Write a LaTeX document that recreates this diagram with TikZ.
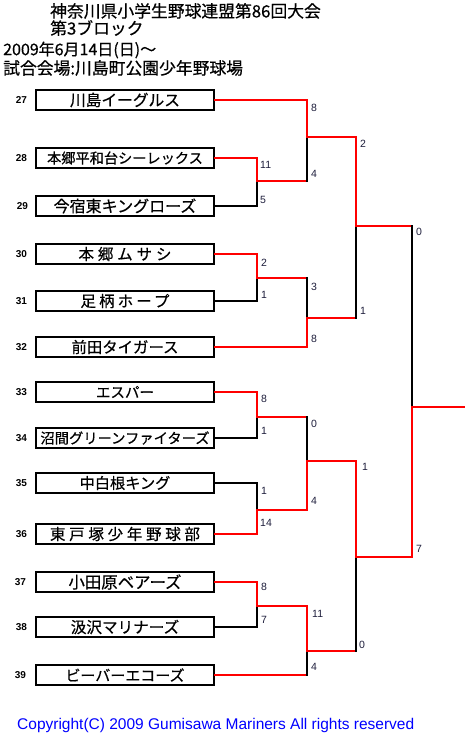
\documentclass[tikz,border=0pt]{standalone}
\usepackage{fontspec}
\setmainfont{Liberation Sans}
\newfontfamily\jp{Noto Sans CJK JP}[FakeBold=0.5]
\usepackage{tikz}
\usetikzlibrary{positioning}
\usepackage{xcolor}
\definecolor{scoreink}{RGB}{30,30,60}

\newcommand{\tname}[3]{{\fontsize{#1}{#1}\selectfont\addfontfeature{LetterSpace=#2}#3}}

\tikzset{
    team/.style={draw, line width=1.6pt, minimum width=178, minimum height=20,
        inner sep=0pt, jp},
    jp/.style={font=\jp},
    seed/.style={font=\fontsize{10}{10}\selectfont\bfseries, inner sep=0pt},
    score/.style={font=\fontsize{10.5}{10.5}\selectfont, text=scoreink, inner sep=1pt, anchor=west},
    head/.style={font=\jp\fontsize{16.8}{16.8}\selectfont, inner sep=0pt, anchor=west},
    win/.style={draw=red, line width=1.6pt, line cap=rect},
    lose/.style={draw=black, line width=1.6pt, line cap=rect}
}

\begin{document}
\begin{tikzpicture}[x=1pt, y=-1pt]
    \path[fill=white, use as bounding box] (0,0) rectangle (465,734);

    % Title
    \node[head] (title) at (50,11) {神奈川県小学生野球連盟第86回大会};
    \node[head] (block) at (50,28) {第3ブロック};
    \node[head, font=\jp\fontsize{16}{16}\selectfont] (date) at (3,50) {2009年6月14日(日)～};
    \node[head] (venue) at (3,68) {試合会場:川島町公園少年野球場};

    % Teams
    \node[team] (t27) at (125,100) {\tname{15.7}{0}{川島イーグルス}};
    \node[team] (t28) at (125,158) {\tname{14.2}{0}{本郷平和台シーレックス}};
    \node[team] (t29) at (125,206) {\tname{16}{0}{今宿東キングローズ}};
    \node[team] (t30) at (125,254) {\tname{15.5}{25}{本郷ムサシ}};
    \node[team] (t31) at (125,301) {\tname{15.5}{20}{足柄ホープ}};
    \node[team] (t32) at (125,347) {\tname{15.4}{0}{前田タイガース}};
    \node[team] (t33) at (125,392) {\tname{14.5}{0}{エスパー}};
    \node[team] (t34) at (125,438) {\tname{14.3}{0}{沼間グリーンファイターズ}};
    \node[team] (t35) at (125,483) {\tname{15.2}{0}{中白根キング}};
    \node[team] (t36) at (125,534) {\tname{15.5}{24}{東戸塚少年野球部}};
    \node[team] (t37) at (125,582) {\tname{16.4}{0}{小田原ベアーズ}};
    \node[team] (t38) at (125,627) {\tname{15.6}{0}{汲沢マリナーズ}};
    \node[team] (t39) at (125,675) {\tname{15}{0}{ビーバーエコーズ}};

    % Seed numbers
    \node[seed, left=8pt of t27] (n27) {27};
    \node[seed, left=8pt of t28] (n28) {28};
    \node[seed, left=7pt of t29] (n29) {29};
    \node[seed, left=8pt of t30] (n30) {30};
    \node[seed, left=8pt of t31] (n31) {31};
    \node[seed, left=8pt of t32] (n32) {32};
    \node[seed, left=8pt of t33] (n33) {33};
    \node[seed, left=8pt of t34] (n34) {34};
    \node[seed, left=8pt of t35] (n35) {35};
    \node[seed, left=8pt of t36] (n36) {36};
    \node[seed, left=9pt of t37] (n37) {37};
    \node[seed, left=8pt of t38] (n38) {38};
    \node[seed, left=9pt of t39] (n39) {39};

    % Junctions
    \coordinate (a1) at (257,181);
    \coordinate (a2) at (257,278);
    \coordinate (a3) at (257,417);
    \coordinate (a4) at (257,510);
    \coordinate (a5) at (257,606);
    \coordinate (b1) at (307,137);
    \coordinate (b2) at (307,318);
    \coordinate (b3) at (307,461);
    \coordinate (b4) at (307,651);
    \coordinate (c1) at (356,226);
    \coordinate (c2) at (356,557);
    \coordinate (d1) at (412,407);
    \coordinate (champ) at (465,407);

    % First round
    \draw[win] (t28.east) -| (a1);
    \draw[lose] (t29.east) -| (a1);
    \draw[win] (t30.east) -| (a2);
    \draw[lose] (t31.east) -| (a2);
    \draw[win] (t33.east) -| (a3);
    \draw[lose] (t34.east) -| (a3);
    \draw[lose] (t35.east) -| (a4);
    \draw[win] (t36.east) -| (a4);
    \draw[win] (t37.east) -| (a5);
    \draw[lose] (t38.east) -| (a5);

    % Second round
    \draw[win] (t27.east) -| (b1);
    \draw[win] (a1) -- (a1 -| b1);
    \draw[lose] (a1 -| b1) -- (b1);
    \draw[win] (a2) -- (a2 -| b2);
    \draw[lose] (a2 -| b2) -- (b2);
    \draw[win] (t32.east) -| (b2);
    \draw[win] (a3) -- (a3 -| b3);
    \draw[lose] (a3 -| b3) -- (b3);
    \draw[win] (a4) -| (b3);
    \draw[win] (a5) -| (b4);
    \draw[win] (t39.east) -- (t39.east -| b4);
    \draw[lose] (t39.east -| b4) -- (b4);

    % Semi-finals
    \draw[win] (b1) -| (c1);
    \draw[win] (b2) -- (b2 -| c1);
    \draw[lose] (b2 -| c1) -- (c1);
    \draw[win] (b3) -| (c2);
    \draw[win] (b4) -- (b4 -| c2);
    \draw[lose] (b4 -| c2) -- (c2);

    % Final
    \draw[win] (c1) -- (c1 -| d1);
    \draw[lose] (c1 -| d1) -- (d1);
    \draw[win] (c2) -| (d1);
    \draw[win] (d1) -- (champ);

    % Scores
    \node[score] (s28) at (259,165) {11};
    \node[score] (s29) at (259,200) {5};
    \node[score] (s30) at (260,263) {2};
    \node[score] (s31) at (260,295) {1};
    \node[score] (s33) at (260,399) {8};
    \node[score] (s34) at (260,431) {1};
    \node[score] (s35) at (260,491) {1};
    \node[score] (s36) at (259,523) {14};
    \node[score] (s37) at (260,587) {8};
    \node[score] (s38) at (260,620) {7};
    \node[score] (b1t) at (310,108) {8};
    \node[score] (b1b) at (310,174) {4};
    \node[score] (b2t) at (310,287) {3};
    \node[score] (b2b) at (310,339) {8};
    \node[score] (b3t) at (310,424) {0};
    \node[score] (b3b) at (310,501) {4};
    \node[score] (b4t) at (311,614) {11};
    \node[score] (b4b) at (310,667) {4};
    \node[score] (c1t) at (359,144) {2};
    \node[score] (c1b) at (359,311) {1};
    \node[score] (c2t) at (361,467) {1};
    \node[score] (c2b) at (358,645) {0};
    \node[score] (d1t) at (415,232) {0};
    \node[score] (d1b) at (415,549) {7};

    % Footer
    \node[anchor=base west, inner sep=0pt, text=blue, font=\fontsize{15.5}{15.5}\selectfont]
        (copy) at (17,729) {Copyright(C) 2009 Gumisawa Mariners All rights reserved};
\end{tikzpicture}
\end{document}
